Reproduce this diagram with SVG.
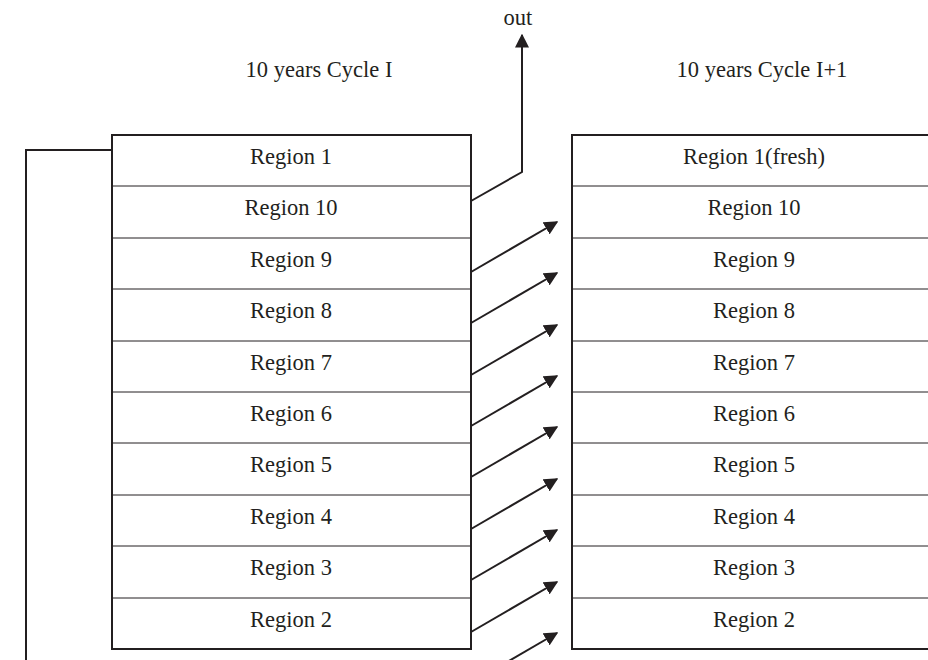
<svg xmlns="http://www.w3.org/2000/svg" width="928" height="660" viewBox="0 0 928 660">
<style>
text{font-family:"Liberation Serif","Times New Roman",serif;font-size:22.5px;fill:#231f20;text-anchor:middle}
.box{fill:#fff;stroke:#231f20;stroke-width:2}
.div{stroke:#231f20;stroke-width:1}
.con{fill:none;stroke:#231f20;stroke-width:2}
</style>
<defs>
<marker id="ah" viewBox="0 0 10 10" refX="9" refY="5" markerWidth="14" markerHeight="14" markerUnits="userSpaceOnUse" orient="auto">
<path d="M0,0 L10,5 L0,10 z" fill="#231f20"/>
</marker>
</defs>
<text x="319" y="77">10 years Cycle I</text>
<text x="762" y="77">10 years Cycle I+1</text>
<text x="518" y="25">out</text>
<g id="cycleI">
<rect class="box" x="112" y="135" width="359" height="514"/>
<line class="div" x1="112" y1="186" x2="471" y2="186"/>
<line class="div" x1="112" y1="238" x2="471" y2="238"/>
<line class="div" x1="112" y1="289" x2="471" y2="289"/>
<line class="div" x1="112" y1="341" x2="471" y2="341"/>
<line class="div" x1="112" y1="392" x2="471" y2="392"/>
<line class="div" x1="112" y1="443" x2="471" y2="443"/>
<line class="div" x1="112" y1="495" x2="471" y2="495"/>
<line class="div" x1="112" y1="546" x2="471" y2="546"/>
<line class="div" x1="112" y1="598" x2="471" y2="598"/>
<text x="291" y="163.5">Region 1</text>
<text x="291" y="215">Region 10</text>
<text x="291" y="266.5">Region 9</text>
<text x="291" y="318">Region 8</text>
<text x="291" y="369.5">Region 7</text>
<text x="291" y="421">Region 6</text>
<text x="291" y="472">Region 5</text>
<text x="291" y="523.5">Region 4</text>
<text x="291" y="575">Region 3</text>
<text x="291" y="626.5">Region 2</text>
</g>
<g id="cycleI1">
<rect class="box" x="572" y="135" width="360" height="514"/>
<line class="div" x1="572" y1="186" x2="932" y2="186"/>
<line class="div" x1="572" y1="238" x2="932" y2="238"/>
<line class="div" x1="572" y1="289" x2="932" y2="289"/>
<line class="div" x1="572" y1="341" x2="932" y2="341"/>
<line class="div" x1="572" y1="392" x2="932" y2="392"/>
<line class="div" x1="572" y1="443" x2="932" y2="443"/>
<line class="div" x1="572" y1="495" x2="932" y2="495"/>
<line class="div" x1="572" y1="546" x2="932" y2="546"/>
<line class="div" x1="572" y1="598" x2="932" y2="598"/>
<text x="754" y="163.5">Region 1(fresh)</text>
<text x="754" y="215">Region 10</text>
<text x="754" y="266.5">Region 9</text>
<text x="754" y="318">Region 8</text>
<text x="754" y="369.5">Region 7</text>
<text x="754" y="421">Region 6</text>
<text x="754" y="472">Region 5</text>
<text x="754" y="523.5">Region 4</text>
<text x="754" y="575">Region 3</text>
<text x="754" y="626.5">Region 2</text>
</g>
<g id="connectors">
<polyline class="con" points="112,150 26,150 26,662"/>
<polyline class="con" points="471,201 522,172 522,35" marker-end="url(#ah)"/>
<line class="con" x1="471" y1="272" x2="557" y2="222" marker-end="url(#ah)"/>
<line class="con" x1="471" y1="323" x2="557" y2="273" marker-end="url(#ah)"/>
<line class="con" x1="471" y1="375" x2="557" y2="325" marker-end="url(#ah)"/>
<line class="con" x1="471" y1="426" x2="557" y2="376" marker-end="url(#ah)"/>
<line class="con" x1="471" y1="477" x2="557" y2="427" marker-end="url(#ah)"/>
<line class="con" x1="471" y1="529" x2="557" y2="479" marker-end="url(#ah)"/>
<line class="con" x1="471" y1="580" x2="557" y2="530" marker-end="url(#ah)"/>
<line class="con" x1="471" y1="632" x2="557" y2="582" marker-end="url(#ah)"/>
<line class="con" x1="471" y1="683" x2="557" y2="633" marker-end="url(#ah)"/>
</g>
</svg>
